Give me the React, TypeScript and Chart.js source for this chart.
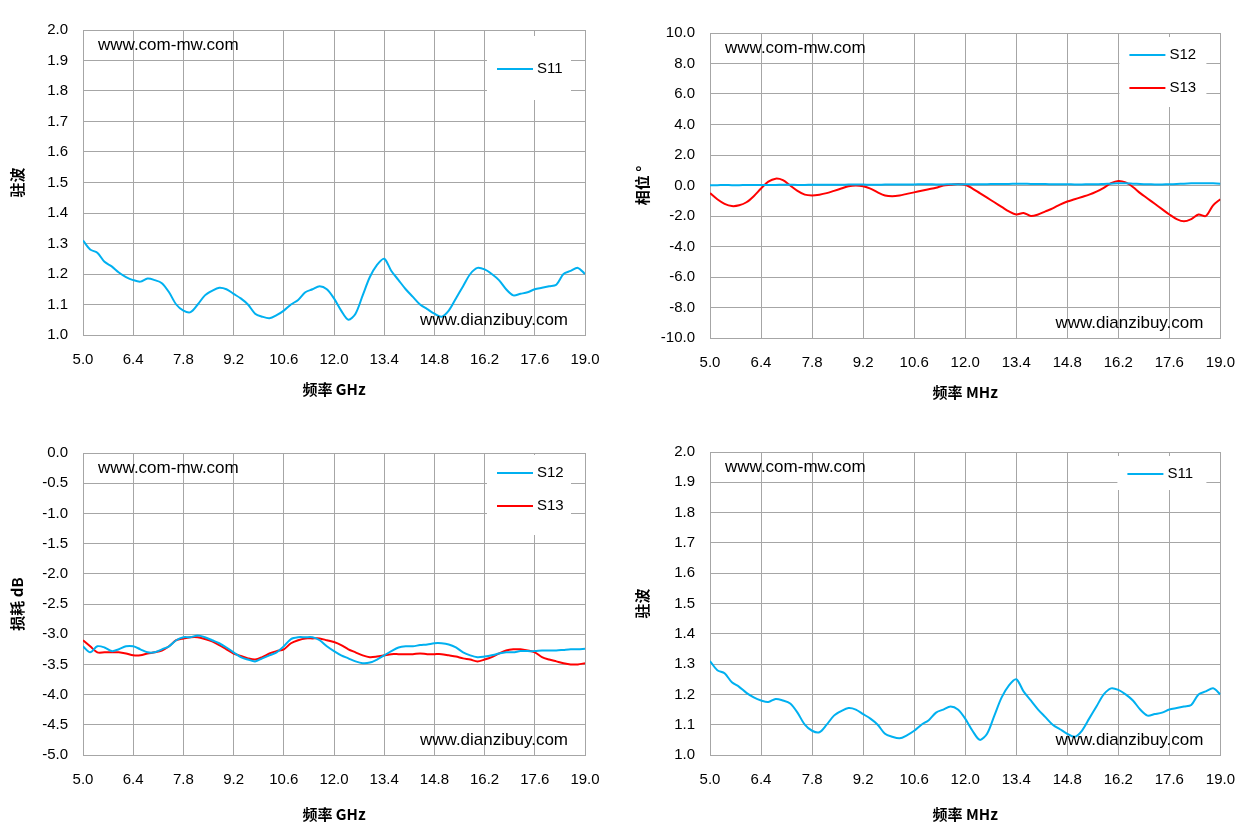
import React, { useEffect, useRef } from "react";
import { Chart, registerables } from "chart.js";
Chart.register(...registerables);

const freqs = Array.from({ length: 71 }, (_, i) => +(5 + i * 0.2).toFixed(1));
const xTicks = [5.0, 6.4, 7.8, 9.2, 10.6, 12.0, 13.4, 14.8, 16.2, 17.6, 19.0];

const s11Vswr = [1.31,1.28,1.27,1.24,1.225,1.205,1.19,1.18,1.175,1.185,1.18,1.17,1.14,1.1,1.08,1.075,1.1,1.13,1.145,1.155,1.15,1.135,1.12,1.1,1.07,1.06,1.055,1.065,1.08,1.1,1.115,1.14,1.15,1.16,1.15,1.12,1.08,1.05,1.07,1.13,1.19,1.23,1.25,1.21,1.18,1.15,1.125,1.1,1.085,1.07,1.06,1.08,1.12,1.16,1.2,1.22,1.215,1.2,1.18,1.15,1.13,1.135,1.14,1.15,1.155,1.16,1.165,1.2,1.21,1.22,1.2];
const s12Phase = [0.02,0.02,0.03,0.02,0.02,0.03,0.03,0.04,0.04,0.04,0.05,0.05,0.04,0.04,0.05,0.05,0.05,0.05,0.05,0.06,0.06,0.06,0.05,0.05,0.06,0.06,0.07,0.07,0.07,0.08,0.08,0.07,0.07,0.08,0.08,0.08,0.08,0.09,0.09,0.1,0.1,0.1,0.12,0.12,0.1,0.1,0.1,0.08,0.08,0.08,0.07,0.07,0.08,0.08,0.1,0.12,0.14,0.14,0.12,0.1,0.08,0.07,0.07,0.08,0.1,0.12,0.14,0.15,0.15,0.14,0.12];
const s13Phase = [-0.5,-0.9,-1.2,-1.35,-1.3,-1.1,-0.7,-0.2,0.25,0.45,0.35,0.0,-0.35,-0.6,-0.65,-0.6,-0.5,-0.35,-0.2,-0.05,0.0,-0.05,-0.2,-0.45,-0.65,-0.7,-0.65,-0.55,-0.45,-0.35,-0.25,-0.15,0.0,0.05,0.1,0.05,-0.2,-0.5,-0.8,-1.1,-1.4,-1.7,-1.9,-1.8,-2.0,-1.9,-1.7,-1.5,-1.25,-1.05,-0.9,-0.75,-0.6,-0.4,-0.15,0.15,0.3,0.2,-0.1,-0.5,-0.85,-1.2,-1.55,-1.9,-2.2,-2.35,-2.2,-1.9,-2.0,-1.3,-0.9];
const s12Loss = [-3.2,-3.3,-3.2,-3.22,-3.28,-3.25,-3.2,-3.2,-3.25,-3.3,-3.3,-3.25,-3.2,-3.1,-3.05,-3.05,-3.02,-3.05,-3.1,-3.15,-3.22,-3.3,-3.38,-3.42,-3.45,-3.4,-3.35,-3.3,-3.2,-3.08,-3.05,-3.05,-3.05,-3.1,-3.2,-3.28,-3.35,-3.4,-3.45,-3.48,-3.47,-3.42,-3.35,-3.28,-3.22,-3.2,-3.2,-3.18,-3.17,-3.15,-3.15,-3.17,-3.22,-3.3,-3.35,-3.38,-3.37,-3.35,-3.32,-3.3,-3.3,-3.28,-3.28,-3.28,-3.27,-3.27,-3.27,-3.26,-3.25,-3.25,-3.24];
const s13Loss = [-3.1,-3.2,-3.3,-3.3,-3.3,-3.3,-3.32,-3.35,-3.35,-3.32,-3.3,-3.27,-3.2,-3.1,-3.07,-3.05,-3.05,-3.08,-3.12,-3.18,-3.25,-3.32,-3.36,-3.4,-3.42,-3.38,-3.32,-3.28,-3.25,-3.15,-3.1,-3.07,-3.07,-3.07,-3.1,-3.13,-3.18,-3.25,-3.3,-3.35,-3.38,-3.37,-3.35,-3.33,-3.33,-3.33,-3.33,-3.32,-3.33,-3.33,-3.33,-3.35,-3.37,-3.4,-3.42,-3.45,-3.42,-3.38,-3.32,-3.27,-3.25,-3.25,-3.27,-3.3,-3.38,-3.42,-3.45,-3.48,-3.5,-3.5,-3.48];

const BLUE = "#00b0f0";
const RED = "#ff0000";
const TICK_FONT = { family: "Liberation Sans, Arial, sans-serif", size: 15 };
const TITLE_FONT = { family: "'Noto Sans CJK SC', sans-serif", size: 15, weight: "bold" as const };

type Cfg = {
  left: number; top: number; w: number; h: number;
  yW: number; xH: number; padTop: number; padRight: number; padBottom: number;
  yMin: number; yMax: number; yStep: number;
  xTitle: string; yTitle: string;
  series: { label: string; data: number[]; color: string }[];
  legendBox: { w: number; h: number; dy: number; labelDy: number };
};

function Panel({ c }: { c: Cfg }) {
  const ref = useRef<HTMLCanvasElement>(null);
  useEffect(() => {
    const overlay = {
      id: "overlay",
      afterDraw(chart: any) {
        const { ctx, chartArea: a } = chart;
        ctx.save();
        ctx.fillStyle = "#000";
        ctx.font = "17px Liberation Sans, Arial, sans-serif";
        ctx.textBaseline = "middle";
        ctx.textAlign = "left";
        ctx.fillText("www.com-mw.com", a.left + 15, a.top + 15);
        ctx.fillText("www.dianzibuy.com", a.right - 165, a.bottom - 15);
        const lb = c.legendBox;
        const bx = a.right - lb.w;
        const by = a.top + lb.dy;
        ctx.fillStyle = "#fff";
        ctx.fillRect(bx, by, lb.w - 14, lb.h);
        ctx.font = "15px Liberation Sans, Arial, sans-serif";
        c.series.forEach((s, i) => {
          const y = by + lb.labelDy + i * 33;
          ctx.strokeStyle = s.color;
          ctx.lineWidth = 2;
          ctx.beginPath();
          ctx.moveTo(bx + 10, y);
          ctx.lineTo(bx + 46, y);
          ctx.stroke();
          ctx.fillStyle = "#000";
          ctx.fillText(s.label, bx + 50, y);
        });
        ctx.restore();
      },
    };
    const chart = new Chart(ref.current!, {
      type: "line",
      data: {
        labels: freqs,
        datasets: c.series.map((s) => ({
          label: s.label,
          data: s.data.map((v, i) => ({ x: freqs[i], y: v })),
          borderColor: s.color,
          borderWidth: 2,
          pointRadius: 0,
          tension: 0.3,
        })),
      },
      options: {
        animation: false,
        responsive: false,
        layout: { padding: { top: c.padTop, right: c.padRight, left: 4, bottom: c.padBottom } },
        plugins: { legend: { display: false }, tooltip: { enabled: false } },
        scales: {
          x: {
            type: "linear",
            min: 5, max: 19,
            afterBuildTicks: (s: any) => { s.ticks = xTicks.map((v) => ({ value: v })); },
            afterFit: (s: any) => { s.height = c.xH; },
            grid: { color: "#a6a6a6", drawTicks: false },
            border: { color: "#a6a6a6" },
            ticks: { color: "#000", font: TICK_FONT, padding: 16, maxRotation: 0, callback: (v: any) => Number(v).toFixed(1) },
            title: { display: true, text: c.xTitle, color: "#000", font: TITLE_FONT, padding: { top: 4, bottom: 2 } },
          },
          y: {
            min: c.yMin, max: c.yMax,
            afterFit: (s: any) => { s.width = c.yW - 4; },
            grid: { color: "#a6a6a6", drawTicks: false },
            border: { color: "#a6a6a6" },
            ticks: { stepSize: c.yStep, color: "#000", font: TICK_FONT, padding: 15, callback: (v: any) => Number(v).toFixed(1) },
            title: { display: true, text: c.yTitle, color: "#000", font: TITLE_FONT, padding: { bottom: 4 } },
          },
        },
      },
      plugins: [overlay],
    } as any);
    return () => chart.destroy();
  }, []);
  return (
    <canvas ref={ref} width={c.w} height={c.h}
      style={{ position: "absolute", left: c.left, top: c.top, width: c.w, height: c.h }} />
  );
}

const panels: Cfg[] = [
  { left: 0, top: 0, w: 625, h: 418, yW: 83, xH: 65, padBottom: 18, padTop: 30, padRight: 40, yMin: 1, yMax: 2, yStep: 0.1,
    xTitle: "频率 GHz", yTitle: "驻波", series: [{ label: "S11", data: s11Vswr, color: BLUE }], legendBox: { w: 98, h: 64, dy: 6, labelDy: 33 } },
  { left: 625, top: 0, w: 626, h: 418, yW: 85, xH: 65, padBottom: 15, padTop: 33, padRight: 30, yMin: -10, yMax: 10, yStep: 2,
    xTitle: "频率 MHz", yTitle: "相位 °", series: [{ label: "S12", data: s12Phase, color: BLUE }, { label: "S13", data: s13Phase, color: RED }], legendBox: { w: 101, h: 70, dy: 4, labelDy: 18 } },
  { left: 0, top: 418, w: 625, h: 418, yW: 83, xH: 70, padBottom: 11, padTop: 35, padRight: 40, yMin: -5, yMax: 0, yStep: 0.5,
    xTitle: "频率 GHz", yTitle: "损耗 dB", series: [{ label: "S12", data: s12Loss, color: BLUE }, { label: "S13", data: s13Loss, color: RED }], legendBox: { w: 98, h: 80, dy: 2, labelDy: 18 } },
  { left: 625, top: 418, w: 626, h: 418, yW: 85, xH: 70, padBottom: 11, padTop: 34, padRight: 30, yMin: 1, yMax: 2, yStep: 0.1,
    xTitle: "频率 MHz", yTitle: "驻波", series: [{ label: "S11", data: s11Vswr, color: BLUE }], legendBox: { w: 103, h: 34, dy: 4, labelDy: 18 } },
];

export default function App() {
  return (
    <div style={{ position: "absolute", left: 0, top: 0, width: 1251, height: 836, background: "#fff" }}>
      {panels.map((p, i) => <Panel key={i} c={p} />)}
    </div>
  );
}
